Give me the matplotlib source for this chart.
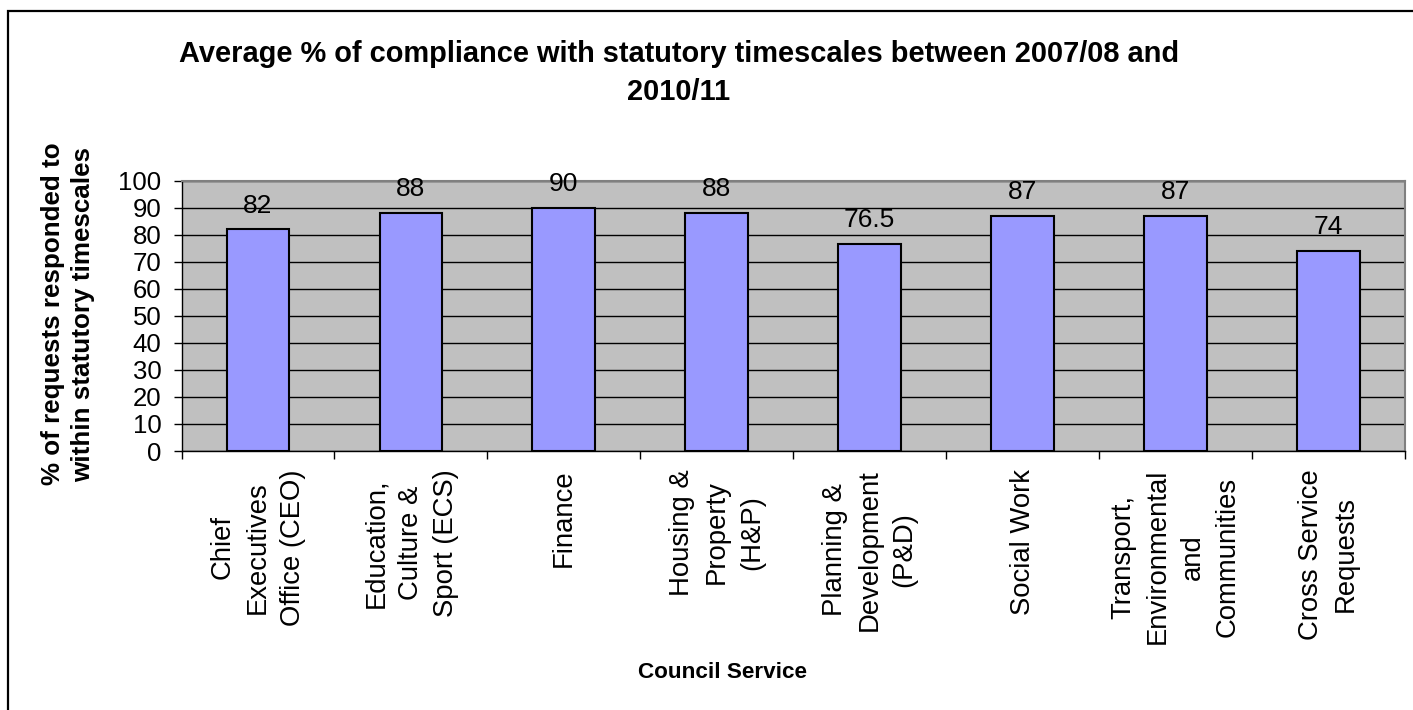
import numpy as np
import matplotlib
matplotlib.use("Agg")
import matplotlib.pyplot as plt
from matplotlib.patches import Rectangle

plt.rcParams["font.family"] = ["Liberation Sans", "DejaVu Sans"]

# compliance by council service
services = [
    "Chief\nExecutives\nOffice (CEO)",
    "Education,\nCulture &\nSport (ECS)",
    "Finance",
    "Housing &\nProperty\n(H&P)",
    "Planning &\nDevelopment\n(P&D)",
    "Social Work",
    "Transport,\nEnvironmental\nand\nCommunities",
    "Cross Service\nRequests",
]
compliance = [82, 88, 90, 88, 76.5, 87, 87, 74]
yticks = list(range(0, 101, 10))

W, H = 1413, 710
fig = plt.figure(figsize=(W / 100, H / 100), dpi=100)
fig.patch.set_facecolor("white")


def px(x0, y0, x1, y1):
    # pixel box (top-left origin) -> figure fraction rect
    return [x0 / W, 1 - y1 / H, (x1 - x0) / W, (y1 - y0) / H]


ax = fig.add_axes(px(181.5, 180.7, 1405, 451))
ax.set_facecolor("#C0C0C0")

x = np.arange(len(services))
bars = ax.bar(x, compliance, width=0.41, color="#9999FF",
              edgecolor="black", linewidth=1.5, zorder=3)
ax.bar_label(bars, labels=[f"{v:g}" for v in compliance], padding=8.5,
             fontsize=19, zorder=4)

ax.set_xlim(-0.5, len(services) - 0.5)
ax.set_ylim(0, 100)
ax.set_yticks(yticks)
ax.yaxis.grid(True, color="black", linewidth=1)
ax.set_axisbelow(True)

ax.set_xticks(x)
ax.set_xticklabels(services, rotation=90, ha="center", va="top",
                   multialignment="center", linespacing=1.45, fontsize=19.8)
ax.set_xticks(np.arange(-0.5, len(services)), minor=True)
ax.tick_params(axis="x", which="major", length=0, pad=13)
ax.tick_params(axis="x", which="minor", length=5.5, width=1, direction="out")
ax.tick_params(axis="y", length=5.5, width=1, direction="out", pad=9,
               labelsize=18.5)

for side in ("top", "right"):
    ax.spines[side].set_color("#808080")
    ax.spines[side].set_linewidth(1.5)
for side in ("left", "bottom"):
    ax.spines[side].set_color("black")
    ax.spines[side].set_linewidth(1)

fig.text(679 / W, 1 - 73 / H,
         "Average % of compliance with statutory timescales between 2007/08 and\n2010/11",
         ha="center", va="center", fontsize=20.9, fontweight="bold",
         linespacing=1.45)

fig.text(68 / W, 1 - 314 / H,
         "% of requests responded to\nwithin statutory timescales",
         rotation=90, ha="center", va="center", multialignment="center",
         fontsize=18.7, fontweight="bold", linespacing=1.35)

fig.text(723 / W, 1 - 673 / H, "Council Service",
         ha="center", va="center", fontsize=16.2, fontweight="bold")

# outer chart border
fig.add_artist(Rectangle((8 / W, -0.05), 1.1, 1 - 11 / H + 0.05,
                         transform=fig.transFigure, fill=False,
                         edgecolor="black", linewidth=1.6))

fig.savefig("out.png", dpi=100)
